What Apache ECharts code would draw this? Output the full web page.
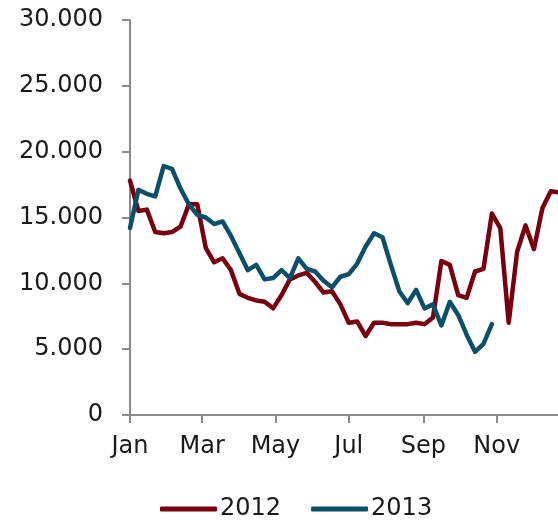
<!DOCTYPE html>
<html>
<head>
<meta charset="utf-8">
<style>
  html, body { margin: 0; padding: 0; background: #ffffff; }
  #chart { width: 558px; height: 520px; }
</style>
<script src="https://cdn.jsdelivr.net/npm/echarts@6/dist/echarts.min.js"></script>
</head>
<body>
<div id="chart"></div>
<script>
// Weekly values, one per week starting 1 January
const values2012 = [
  17.8, 15.5, 15.6, 13.9, 13.8, 13.9, 14.3, 16.0, 16.0, 12.7,
  11.6, 11.9, 11.0, 9.2, 8.9, 8.7, 8.6, 8.1, 9.1, 10.3,
  10.6, 10.8, 10.1, 9.3, 9.4, 8.4, 7.0, 7.1, 6.0, 7.0,
  7.0, 6.9, 6.9, 6.9, 7.0, 6.9, 7.4, 11.7, 11.4, 9.1,
  8.9, 10.9, 11.1, 15.3, 14.2, 7.0, 12.4, 14.4, 12.6, 15.7,
  17.0, 16.9
];
const values2013 = [
  14.2, 17.1, 16.8, 16.6, 18.9, 18.7, 17.2, 16.0, 15.2, 15.0,
  14.5, 14.7, 13.6, 12.3, 11.0, 11.4, 10.3, 10.4, 11.0, 10.4,
  11.9, 11.1, 10.9, 10.2, 9.7, 10.5, 10.7, 11.5, 12.8, 13.8,
  13.5, 11.4, 9.4, 8.5, 9.5, 8.1, 8.4, 6.8, 8.6, 7.6,
  6.1, 4.8, 5.4, 6.9
];
const seriesNames = ['2012', '2013'];

// Day-of-year positions of the labelled month starts
const monthTickDays = [0, 60, 121, 182, 244, 305];
const monthLabels = ['Jan', 'Mar', 'May', 'Jul', 'Sep', 'Nov'];

const toPoints = arr => arr.map((v, i) => [i * 7, v * 1000]);

function formatThousands(v) {
  const s = String(Math.round(v));
  return s.replace(/\B(?=(\d{3})+(?!\d))/g, '.');
}

const FONT = 'DejaVu Sans';
const AXIS_COLOR = '#8a8a8a';
const TEXT_COLOR = '#1a1a1a';

const chart = echarts.init(document.getElementById('chart'), null, { renderer: 'canvas' });
chart.setOption({
  animation: false,
  backgroundColor: '#ffffff',
  // the visible window ends in mid-December; later points are clipped
  grid: { left: 130, top: 20, bottom: 105, right: 0, containLabel: false },
  xAxis: {
    type: 'value',
    min: 0,
    max: 356,
    splitLine: { show: false },
    axisLine: { show: true, onZero: false, lineStyle: { color: AXIS_COLOR, width: 2 } },
    axisTick: {
      show: true, length: 8, inside: false,
      customValues: monthTickDays,
      lineStyle: { color: AXIS_COLOR, width: 2 }
    },
    axisLabel: {
      customValues: monthTickDays,
      formatter: v => monthLabels[monthTickDays.indexOf(v)] || '',
      margin: 20,
      color: TEXT_COLOR,
      fontFamily: FONT,
      fontSize: 24
    }
  },
  yAxis: {
    type: 'value',
    min: 0,
    max: 30000,
    interval: 5000,
    splitLine: { show: false },
    axisLine: { show: true, lineStyle: { color: AXIS_COLOR, width: 2 } },
    axisTick: { show: true, length: 8, inside: false, lineStyle: { color: AXIS_COLOR, width: 2 } },
    axisLabel: {
      formatter: v => formatThousands(v),
      margin: 27,
      color: TEXT_COLOR,
      fontFamily: FONT,
      fontSize: 24
    }
  },
  legend: {
    top: 492,
    left: 155,
    icon: 'roundRect',
    itemWidth: 57,
    itemHeight: 5,
    itemGap: 30,
    textStyle: { color: TEXT_COLOR, fontFamily: FONT, fontSize: 24, padding: [0, 0, 0, -2] },
    data: seriesNames
  },
  series: [
    {
      name: seriesNames[0],
      type: 'line',
      data: toPoints(values2012),
      showSymbol: false,
      symbol: 'none',
      color: '#78000F',
      lineStyle: { color: '#78000F', width: 4.5, join: 'round', cap: 'round' }
    },
    {
      name: seriesNames[1],
      type: 'line',
      data: toPoints(values2013),
      showSymbol: false,
      symbol: 'none',
      color: '#0B5068',
      lineStyle: { color: '#0B5068', width: 4.5, join: 'round', cap: 'round' }
    }
  ]
});
</script>
</body>
</html>
